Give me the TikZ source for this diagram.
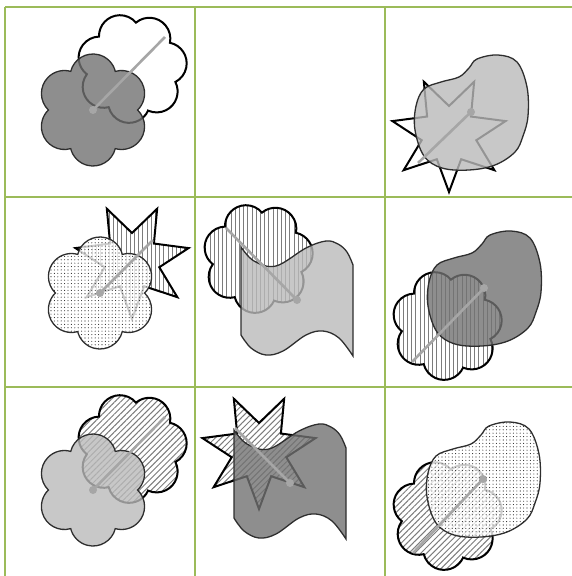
\documentclass[tikz,border=0pt]{standalone}
\usepackage{tikz}
\usetikzlibrary{patterns.meta}
\definecolor{gridc}{HTML}{9BBB59}
\definecolor{darkc}{HTML}{727272}
\definecolor{lightc}{HTML}{BABABA}
\definecolor{trackc}{HTML}{A6A6A6}
\definecolor{hatchc}{HTML}{7C7C7C}
\definecolor{edgec}{HTML}{2E2E2E}
\tikzset{
  gridline/.style={draw=gridc, line width=1.5pt},
  backshape/.style={draw=black, line width=2pt, fill=white},
  backlines/.style={draw=black, line width=2pt, preaction={fill=white},
               pattern={Lines[angle=#1, distance=4.2pt, line width=1pt]}, pattern color=hatchc},
  frontshape/.style={draw=edgec, line width=1.3pt, fill=#1, fill opacity=0.8},
  frontdots/.style={draw=edgec, line width=1.3pt, preaction={fill=white, fill opacity=0.8},
               pattern={Dots[distance=3.4pt, radius=0.55pt]}, pattern color=black!85},
  track/.style={draw=trackc, line width=2.6pt},
  trackdot/.style={fill=trackc},
}
% lobed outline: centre, lobes, lobe offset, lobe radius, turn, style
\newcommand{\flowershape}[6]{%
  \pgfmathsetmacro\fh{180/#2}%
  \pgfmathsetmacro\fn{#3*cos(\fh)+sqrt(#4*#4-(#3*sin(\fh))^2)}%
  \pgfmathsetmacro\fb{atan2(\fn*sin(\fh),\fn*cos(\fh)-#3)}%
  \draw[#6, shift={#1}] ({#5-\fh}:\fn)
    \foreach \k in {1,...,#2} {arc[start angle={#5+360*(\k-1)/#2-\fb}, end angle={#5+360*(\k-1)/#2+\fb}, radius=#4]} -- cycle;}
\newcommand{\petals}[2]{\flowershape{#1}{6}{33}{23}{270}{#2}}
\newcommand{\cloudshape}[2]{\flowershape{#1}{7}{34}{21}{95}{#2}}
\newcommand{\burst}[2]{%
  \draw[#2, shift={#1}] (90:58) \foreach \k in {1,...,6} {-- ({90+360*(\k-0.5)/7}:28) -- ({90+360*\k/7}:58)}
    -- ({90-180/7}:28) -- cycle;}
\newcommand{\blobshape}[2]{%
  \draw[#2, shift={#1}] plot[smooth cycle, tension=0.6] coordinates {(27,-57) (46,-50) (56,-25) (57,4) (52,24)
    (44,40) (24,53) (-2,58) (-29,56) (-47,44) (-56,18) (-55,-6) (-47,-23) (-30,-30) (-12,-35) (-2,-44) (6,-53)};}
\newcommand{\waveshape}[2]{%
  \draw[#2, shift={#1}] plot[smooth, tension=0.6] coordinates {(-56,-53) (-43,-39) (-21,-34) (9,-52) (29,-59) (41,-56) (50,-48) (56,-35)}
    -- plot[smooth, tension=0.6] coordinates {(56,56) (42,38) (26,31) (9,35) (-14,51) (-31,55) (-46,48) (-56,35)} -- cycle;}

\begin{document}
\begin{tikzpicture}[x=1pt, y=-1pt]
  \useasboundingbox (0,0) rectangle (572,576);
  \foreach \gx in {5,195,385} \draw[gridline] (\gx,7) -- (\gx,576);
  \foreach \gy in {7,197,387} \draw[gridline] (5,\gy) -- (572,\gy);
  % top row
  \cloudshape{(132,68)}{backshape}
  \petals{(93,110)}{frontshape=darkc}
  \burst{(449,134)}{backshape}
  \blobshape{(471,112)}{frontshape=lightc}
  % middle row
  \burst{(132,261)}{backlines=90}
  \petals{(100,293)}{frontdots}
  \cloudshape{(258,258)}{backlines=90}
  \waveshape{(297,300)}{frontshape=lightc}
  \cloudshape{(447,325)}{backlines=90}
  \blobshape{(484,288)}{frontshape=darkc}
  % bottom row
  \cloudshape{(132,448)}{backlines=45}
  \petals{(93,490)}{frontshape=lightc}
  \burst{(259,451)}{backlines=45}
  \waveshape{(290,483)}{frontshape=darkc}
  \cloudshape{(447,515)}{backlines=45}
  \blobshape{(483,479)}{frontdots}
  % tracks from the front centre
  \foreach \mx/\my/\tx/\ty [count=\i] in {93/110/165/37, 471/112/418/163, 100/293/153/240, 297/300/226/228,
      484/288/412/362, 93/490/165/417, 290/483/235/428, 483/479/413/553} {
    \coordinate (m\i) at (\mx,\my);
    \coordinate (t\i) at (\tx,\ty);
    \draw[track] (m\i) -- (t\i);
    \fill[trackdot] (m\i) circle[radius=4];
  }
\end{tikzpicture}
\end{document}
